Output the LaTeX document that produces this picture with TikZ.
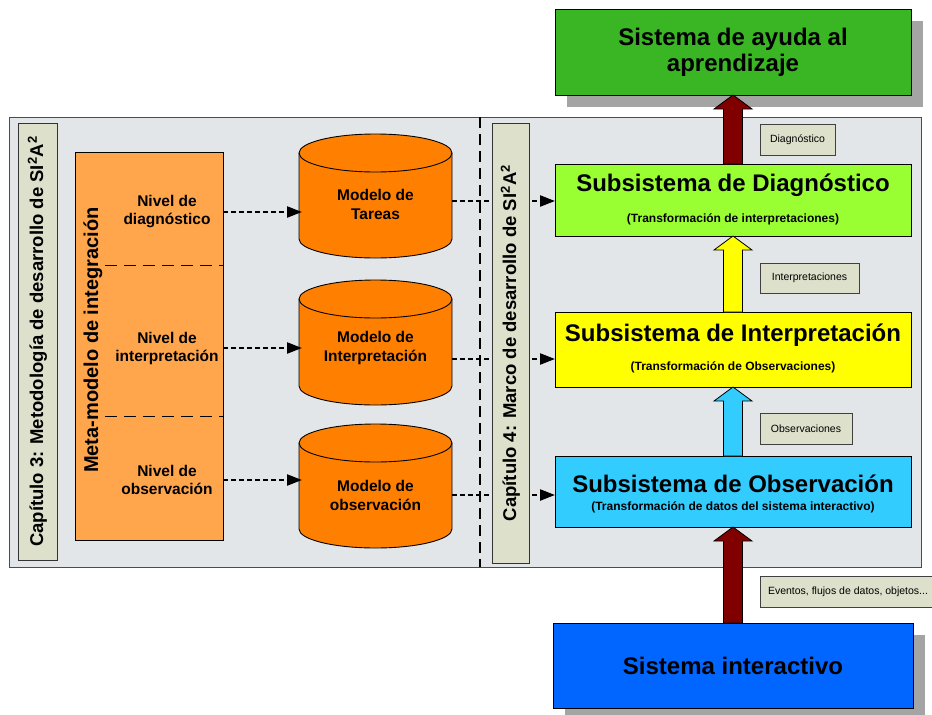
\documentclass[tikz,border=0pt]{standalone}
\usepackage{fontspec}
\setmainfont{Liberation Sans}
\usetikzlibrary{arrows.meta,shadows}

\definecolor{panelbg}{HTML}{E3E6E9}
\definecolor{stripbg}{HTML}{DDE0CB}
\definecolor{metaorange}{HTML}{FFA64D}
\definecolor{cylorange}{HTML}{FF8000}
\definecolor{diaggreen}{HTML}{99FF33}
\definecolor{interpyellow}{HTML}{FFFF00}
\definecolor{obscyan}{HTML}{33CCFF}
\definecolor{topgreen}{HTML}{3AB524}
\definecolor{sysblue}{HTML}{0066FF}
\definecolor{maroonarrow}{HTML}{800000}
\definecolor{shadowgray}{HTML}{A4A4A4}

% wide upward block arrow from the top of #1 to the bottom of #2
\newcommand{\blockarrow}[3]{%
  \draw[blockarr,fill=#3]
    ([xshift=-9.5pt]#1.north) -- ([xshift=-9.5pt,yshift=-14pt]#2.south)
    -- ([xshift=-19pt,yshift=-14pt]#2.south) -- (#2.south)
    -- ([xshift=19pt,yshift=-14pt]#2.south) -- ([xshift=9.5pt,yshift=-14pt]#2.south)
    -- ([xshift=9.5pt]#1.north) -- cycle;}

\begin{document}
\begin{tikzpicture}[x=1pt,y=-1pt,
  every node/.style={inner sep=0pt,outer sep=0pt,text=black},
  panelbox/.style={draw=black!70,line width=1pt,fill=panelbg},
  chapstrip/.style={draw=black!80,line width=1pt,fill=stripbg,rotate=90,
    font=\fontsize{18.5}{22}\selectfont\bfseries},
  metabox/.style={draw=black,line width=1pt,fill=metaorange},
  metalabel/.style={rotate=90,font=\fontsize{20}{24}\selectfont\bfseries},
  leveltext/.style={align=center,font=\fontsize{15.5}{18}\selectfont\bfseries},
  cylshape/.style={draw=black,line width=0.9pt,fill=cylorange},
  cyltext/.style={align=center,minimum width=153pt,
    font=\fontsize{15.5}{19}\selectfont\bfseries},
  levelsep/.style={draw=black,line width=1pt,dash pattern=on 12pt off 7pt},
  chaptersep/.style={draw=black,line width=1.2pt,dash pattern=on 11pt off 6pt},
  dotarrow/.style={draw=black,line width=2.3pt,dash pattern=on 5pt off 3pt,
    -{Triangle[length=15pt,width=11pt]}},
  subsys/.style={draw=black,line width=1pt,minimum width=356pt},
  sstitle/.style={font=\fontsize{24}{28}\selectfont\bfseries},
  ssnote/.style={font=\fontsize{12}{14}\selectfont\bfseries},
  tagbox/.style={draw=black!75,line width=1pt,fill=stripbg,
    font=\fontsize{10.5}{12}\selectfont},
  sysbox/.style={draw=black,line width=1pt,minimum width=356pt,align=center,
    font=\fontsize{24}{26}\selectfont\bfseries,
    drop shadow={shadow xshift=12pt,shadow yshift=-12pt,fill=shadowgray,opacity=1}},
  blockarr/.style={draw=black,line width=0.8pt,line join=miter},
]
\useasboundingbox (0,0) rectangle (932,715);

% common background panel and the chapter divider
\node[panelbox,minimum width=912pt,minimum height=450pt] (panel) at (465,342) {};
\coordinate (sepTop) at (480,117);
\coordinate (sepBot) at (480,567);
\draw[chaptersep] (sepTop) -- (sepBot);

% integration meta-model with its three levels
\node[metabox,minimum width=148pt,minimum height=388pt] (meta) at (149,346) {};
\node[metalabel] (metaL) at (93,340) {Meta-modelo de integración};
\coordinate (sepA1) at (105,265);
\coordinate (sepB1) at (105,416);
\draw[levelsep] (sepA1) -- (sepA1 -| meta.east);
\draw[levelsep] (sepB1) -- (sepB1 -| meta.east);
\node[leveltext] (lvlD) at (167,212) {Nivel de\\diagnóstico};
\node[leveltext] (lvlI) at (167,348) {Nivel de\\interpretación};
\node[leveltext] (lvlO) at (167,480) {Nivel de\\observación};

% model repositories
\foreach \yt/\yb in {153/239, 299/386, 443/529}{
  \draw[cylshape] (299,\yt) -- (299,\yb)
    arc[start angle=180,end angle=360,x radius=76.5pt,y radius=19pt]
    -- (452,\yt)
    arc[start angle=0,end angle=180,x radius=76.5pt,y radius=19pt] -- cycle;
  \draw[cylshape,fill=none] (299,\yt)
    arc[start angle=180,end angle=360,x radius=76.5pt,y radius=19pt];
}
\node[cyltext] (cylT) at (375.5,204) {Modelo de\\Tareas};
\node[cyltext] (cylI) at (375.5,348) {Modelo de\\Interpretación};
\node[cyltext] (cylO) at (375.5,495) {Modelo de\\observación};

\draw[dotarrow] (meta.east |- lvlD) -- ([xshift=3pt]cylT.west |- lvlD);
\draw[dotarrow] (meta.east |- lvlI) -- ([xshift=3pt]cylI.west |- lvlI);
\draw[dotarrow] (meta.east |- lvlO) -- ([xshift=3pt]cylO.west |- lvlO);

% subsystems of the framework
\node[subsys,fill=diaggreen,minimum height=72pt] (diag) at (733,200) {};
\node[subsys,fill=interpyellow,minimum height=75pt] (interp) at (733,349.5) {};
\node[subsys,fill=obscyan,minimum height=71pt] (obs) at (733,491.5) {};
\node[sstitle] (diagT) at (733,185) {Subsistema de Diagnóstico};
\node[ssnote] (diagS) at (733,219) {(Transformación de interpretaciones)};
\node[sstitle] (interpT) at (733,335) {Subsistema de Interpretación};
\node[ssnote] (interpS) at (733,367) {(Transformación de Observaciones)};
\node[sstitle] (obsT) at (733,484) {Subsistema de Observación};
\node[ssnote] (obsS) at (733,507) {(Transformación de datos del sistema interactivo)};

\coordinate (outT) at ([yshift=3pt]cylT.east);
\coordinate (outI) at ([yshift=-11pt]cylI.east);
\coordinate (outO) at (cylO.east);
\draw[dotarrow] (outT) -- (outT -| diag.west);
\draw[dotarrow] (outI) -- (outI -| interp.west);
\draw[dotarrow] (outO) -- (outO -| obs.west);

% chapter strips
\node[chapstrip,minimum width=437pt,minimum height=39pt] (chap3) at (37.5,341.5)
  {Capítulo 3: Metodología de desarrollo de SI\textsuperscript{2}A\textsuperscript{2}};
\node[chapstrip,minimum width=440pt,minimum height=37pt] (chap4) at (510.5,343)
  {Capítulo 4: Marco de desarrollo de SI\textsuperscript{2}A\textsuperscript{2}};

% outer systems
\node[sysbox,fill=topgreen,minimum height=86pt] (help) at (733,52)
  {Sistema de ayuda al\\aprendizaje};
\node[sysbox,fill=sysblue,minimum height=85pt,minimum width=360pt] (inter) at (733,665.5)
  {Sistema interactivo};

% data flows
\blockarrow{inter}{obs}{maroonarrow}
\blockarrow{obs}{interp}{obscyan}
\blockarrow{interp}{diag}{interpyellow}
\blockarrow{diag}{help}{maroonarrow}

\node[tagbox,minimum width=75pt,minimum height=31pt] (tagD) at (797.5,139.5) {Diagnóstico};
\node[tagbox,minimum width=99pt,minimum height=30pt] (tagI) at (809.5,278) {Interpretaciones};
\node[tagbox,minimum width=92pt,minimum height=31pt] (tagO) at (806,428.5) {Observaciones};
\node[tagbox,minimum width=176pt,minimum height=31pt] (tagE) at (848,591.5)
  {Eventos, flujos de datos, objetos...};
\end{tikzpicture}
\end{document}
